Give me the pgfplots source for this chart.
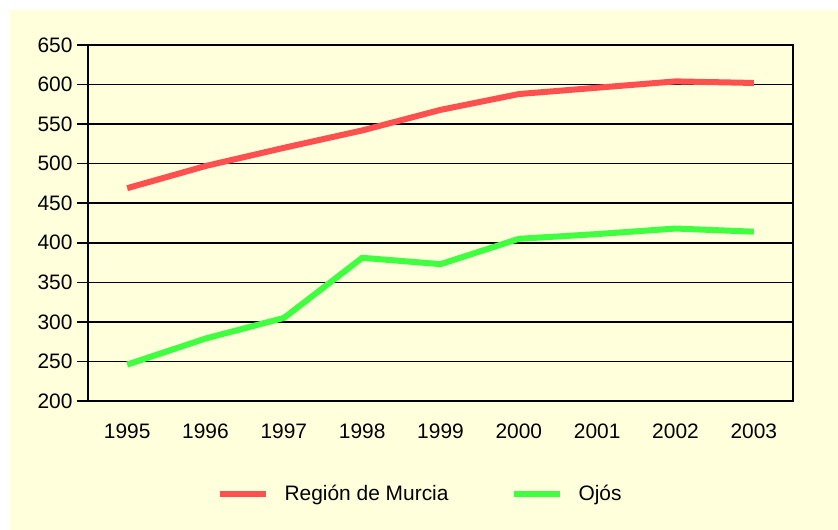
\documentclass[border=0pt]{standalone}
\usepackage{pgfplots}
\pgfplotsset{compat=1.18}
\usepackage{fontspec}
\setmainfont{Liberation Sans}
\definecolor{bgyellow}{RGB}{255,255,220}
\definecolor{murcia}{RGB}{255,80,80}
\definecolor{ojos}{RGB}{64,255,64}
\begin{document}
\begin{tikzpicture}[x=1bp,y=1bp]
\fill[white] (0,0) rectangle (838,530);
\fill[bgyellow] (10,0) rectangle (838,520);
\begin{axis}[
  at={(88bp,129bp)}, anchor=south west,
  scale only axis, width=705bp, height=356bp,
  xmin=0.5, xmax=9.5, ymin=200, ymax=650,
  xtick={1,...,9},
  xticklabels={1995,1996,1997,1998,1999,2000,2001,2002,2003},
  minor xtick={0.5,1.5,...,9.5},
  ytick={200,250,...,650},
  tick align=outside,
  xtick style={draw=none},
  minor tick length=12bp,
  major tick length=11bp,
  ytick style={black, line width=1.5bp},
  minor tick style={black, line width=1.5bp},
  xticklabel pos=lower, yticklabel pos=left,
  xtick pos=lower, ytick pos=left,
  ymajorgrids, grid style={black, line width=1.5bp},
  axis line style={black, line width=2bp},
  /pgf/number format/assume math mode=true,
  /pgf/number format/1000 sep={},
  ticklabel style={font=\fontsize{21}{25}\selectfont},
  xticklabel style={yshift=-8bp},
  yticklabel style={xshift=-1bp},
  legend columns=2,
  legend style={at={(0.471,-0.261)}, anchor=center, draw=none, fill=none,
    font=\fontsize{21}{25}\selectfont,
    /tikz/every odd column/.append style={column sep=14bp},
    /tikz/every even column/.append style={column sep=60bp}},
  legend image code/.code={\draw[#1] (0bp,0bp) -- (46bp,0bp);},
  legend cell align=left,
]
\addplot[murcia, line width=6bp] coordinates {
(1,469) (2,497) (3,520) (4,542) (5,568) (6,588) (7,596) (8,604) (9,602)};
\addlegendentry{Región de Murcia}
\addplot[ojos, line width=6bp] coordinates {
(1,246) (2,279) (3,305) (4,381) (5,373) (6,405) (7,411) (8,418) (9,414)};
\addlegendentry{Ojós}
\end{axis}
\end{tikzpicture}
\end{document}
